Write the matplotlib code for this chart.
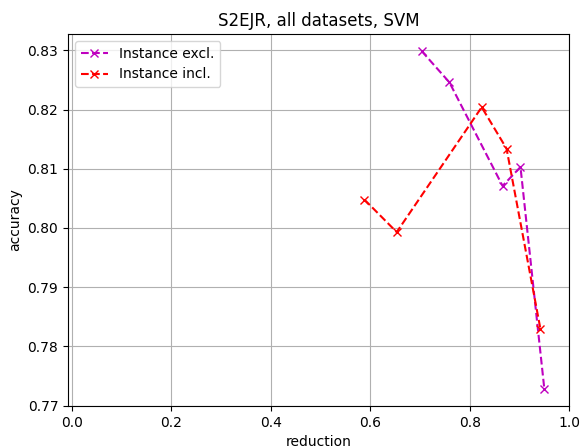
import matplotlib
matplotlib.use("Agg")
import matplotlib.pyplot as plt

# reduction / accuracy per configuration
excl_reduction = [0.703, 0.759, 0.866, 0.902, 0.950]
excl_accuracy = [0.8299, 0.8246, 0.8071, 0.8103, 0.7728]
incl_reduction = [0.588, 0.653, 0.824, 0.874, 0.942]
incl_accuracy = [0.8048, 0.7993, 0.8204, 0.8134, 0.7830]

fig = plt.figure(figsize=(5.82, 4.48), dpi=100)
ax = fig.add_axes([0.117, 0.094, 0.861, 0.830])

ax.plot(excl_reduction, excl_accuracy, 'x--', color='m', label='Instance excl.')
ax.plot(incl_reduction, incl_accuracy, 'x--', color='r', label='Instance incl.')

ax.set_xlim(-0.008, 1.0)
ax.set_xlabel('reduction')
ax.set_ylabel('accuracy')
ax.set_title('S2EJR, all datasets, SVM')
ax.grid(True)
ax.legend(loc='upper left')

fig.savefig('out.png', dpi=100)
